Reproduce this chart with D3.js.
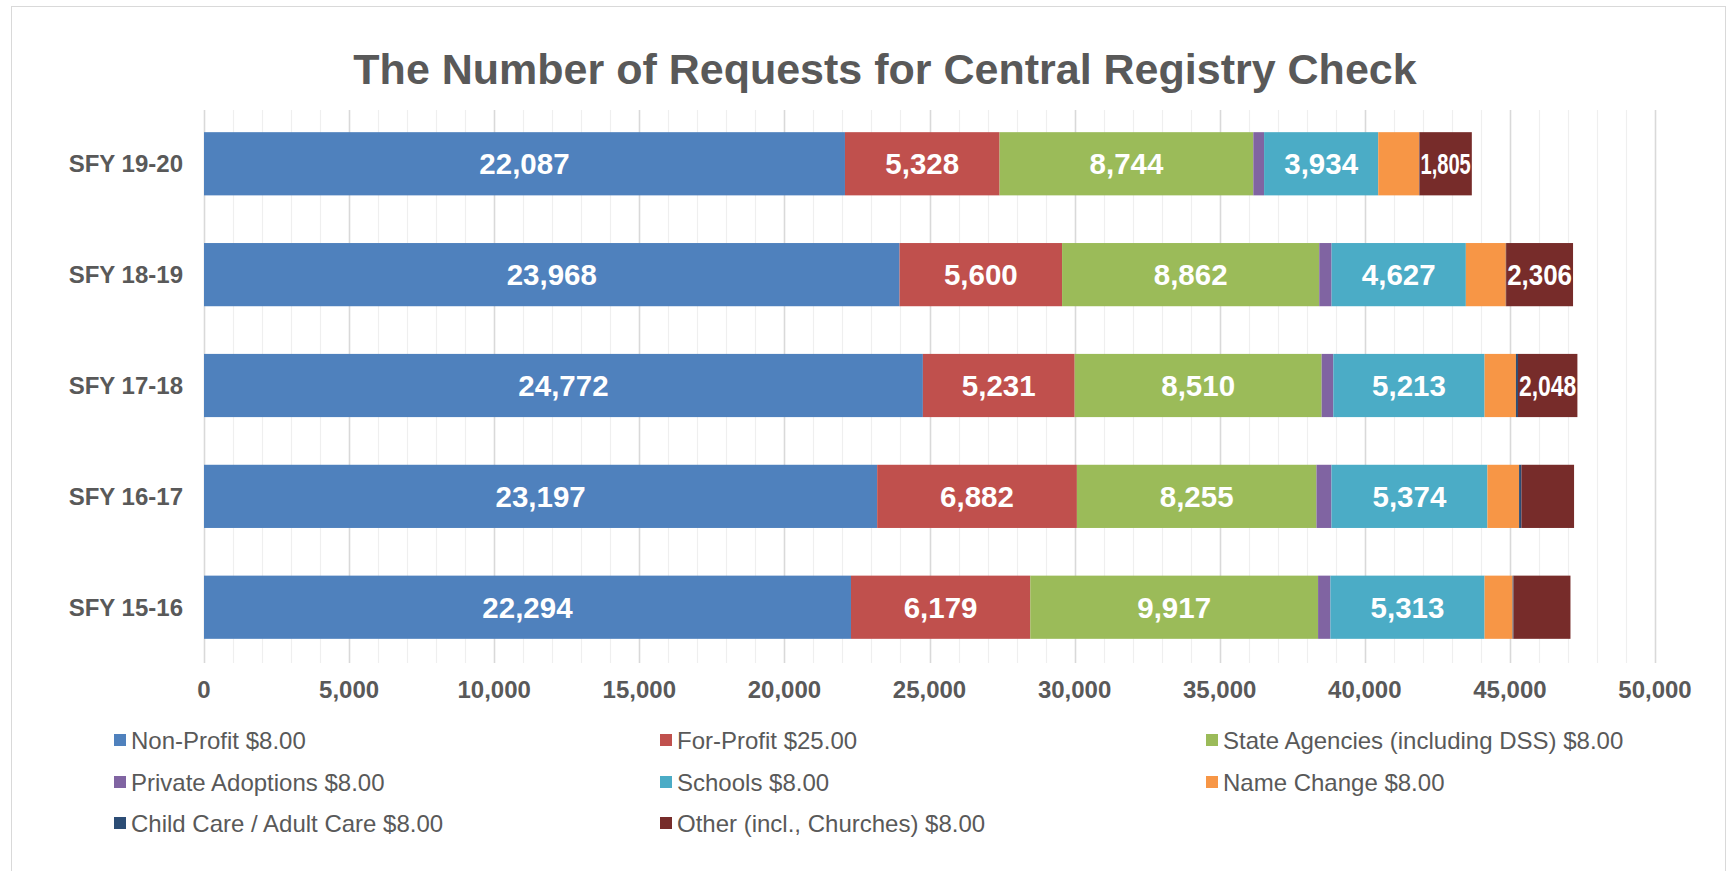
<!DOCTYPE html>
<html>
<head>
<meta charset="utf-8">
<script src="https://cdn.jsdelivr.net/npm/d3@7"></script>
<style>
  html, body { margin: 0; padding: 0; background: #fff; }
  text { font-family: "Liberation Sans", Arial, sans-serif; }
</style>
</head>
<body>
<div id="chart"></div>
<script>
const WIDTH = 1736, HEIGHT = 871;

const years = ["SFY 19-20", "SFY 18-19", "SFY 17-18", "SFY 16-17", "SFY 15-16"];
const seriesNames = [
  "Non-Profit $8.00", "For-Profit $25.00", "State Agencies (including DSS) $8.00",
  "Private Adoptions $8.00", "Schools $8.00", "Name Change $8.00",
  "Child Care / Adult Care $8.00", "Other (incl., Churches) $8.00"
];
const colors = ["#4F81BD", "#C0504D", "#9BBB59", "#8064A2", "#4BACC6", "#F79646", "#2C4D75", "#772C2A"];

const nonProfit = [22087, 23968, 24772, 23197, 22294];
const forProfit = [5328, 5600, 5231, 6882, 6179];
const stateAgencies = [8744, 8862, 8510, 8255, 9917];
const privateAdoptions = [370, 425, 402, 517, 425];
const schools = [3934, 4627, 5213, 5374, 5313];
const nameChange = [1410, 1378, 1080, 1091, 965];
const childCare = [10, 10, 70, 80, 30];
const other = [1805, 2306, 2048, 1815, 1964];

// which segments carry a data label (per series, per year)
const labelShown = [
  [1, 1, 1, 1, 1], [1, 1, 1, 1, 1], [1, 1, 1, 1, 1], [0, 0, 0, 0, 0],
  [1, 1, 1, 1, 1], [0, 0, 0, 0, 0], [0, 0, 0, 0, 0], [1, 1, 1, 0, 0]
];
const xTicks = [0, 5000, 10000, 15000, 20000, 25000, 30000, 35000, 40000, 45000, 50000];
const xMinorTicks = d3.range(0, 50001, 1000);

const allSeries = [nonProfit, forProfit, stateAgencies, privateAdoptions, schools, nameChange, childCare, other];
const rows = years.map((y, i) => {
  const r = {year: y};
  seriesNames.forEach((s, j) => r[s] = allSeries[j][i]);
  return r;
});

const M = {top: 110, left: 204, right: 81, bottom: 210};
const plotW = WIDTH - M.left - M.right;
const plotH = HEIGHT - M.top - M.bottom;

const svg = d3.select("#chart").append("svg")
  .attr("width", WIDTH).attr("height", HEIGHT);

svg.append("rect")
  .attr("x", 11.5).attr("y", 6.5).attr("width", 1714).attr("height", 880)
  .attr("fill", "#fff").attr("stroke", "#d9d9d9").attr("stroke-width", 1);

svg.append("text")
  .attr("x", 885).attr("y", 84)
  .attr("text-anchor", "middle")
  .attr("fill", "#595959")
  .attr("font-size", 43).attr("font-weight", "bold")
  .text("The Number of Requests for Central Registry Check");

const g = svg.append("g").attr("transform", `translate(${M.left},${M.top})`);

const x = d3.scaleLinear().domain([0, 50000]).range([0, plotW]);
const y = d3.scaleBand().domain(years).range([0, plotH]).paddingInner(0.43).paddingOuter(0.2);

// gridlines
g.append("g").selectAll("line").data(xMinorTicks).join("line")
  .attr("x1", d => Math.round(x(d)) + 0.5).attr("x2", d => Math.round(x(d)) + 0.5)
  .attr("y1", 0).attr("y2", plotH + 2)
  .attr("stroke", d => d % 5000 === 0 ? "#d9d9d9" : "#efefef")
  .attr("stroke-width", d => d % 5000 === 0 ? 1.6 : 1.2);

const stack = d3.stack().keys(seriesNames);
const stacked = stack(rows);

const layers = g.selectAll("g.layer").data(stacked).join("g")
  .attr("class", "layer")
  .attr("fill", (d, i) => colors[i]);

layers.selectAll("rect").data(d => d).join("rect")
  .attr("x", d => x(d[0]))
  .attr("y", d => y(d.data.year))
  .attr("width", d => x(d[1]) - x(d[0]))
  .attr("height", y.bandwidth());

// data labels
const fmt = d3.format(",");
stacked.forEach((layer, si) => {
  layer.forEach((d, yi) => {
    if (!labelShown[si][yi]) return;
    const w = x(d[1]) - x(d[0]);
    const t = g.append("text")
      .attr("x", x(d[0]) + w / 2)
      .attr("y", y(d.data.year) + y.bandwidth() / 2)
      .attr("dy", "0.36em")
      .attr("text-anchor", "middle")
      .attr("fill", "#fff")
      .attr("font-size", 29.5).attr("font-weight", "bold")
      .text(fmt(d[1] - d[0]));
    const natural = t.node().getComputedTextLength();
    if (natural > w - 2) {
      t.attr("textLength", w - 2).attr("lengthAdjust", "spacingAndGlyphs");
    }
  });
});

// category axis labels
g.append("g").selectAll("text").data(years).join("text")
  .attr("x", -21)
  .attr("y", d => y(d) + y.bandwidth() / 2)
  .attr("dy", "0.36em")
  .attr("text-anchor", "end")
  .attr("fill", "#595959")
  .attr("font-size", 24).attr("font-weight", "bold")
  .text(d => d);

// value axis labels
g.append("g").selectAll("text").data(xTicks).join("text")
  .attr("x", d => x(d))
  .attr("y", plotH + 28)
  .attr("dy", "0.36em")
  .attr("text-anchor", "middle")
  .attr("fill", "#595959")
  .attr("font-size", 24).attr("font-weight", "bold")
  .text(d => fmt(d));

// legend: three columns
const legendCols = [114, 660, 1206];
const legendRows = [740, 782, 823];
const legend = svg.append("g").selectAll("g").data(seriesNames).join("g")
  .attr("transform", (d, i) => `translate(${legendCols[i % 3]},${legendRows[Math.floor(i / 3)]})`);
legend.append("rect")
  .attr("x", 0).attr("y", -6).attr("width", 12).attr("height", 12)
  .attr("fill", (d, i) => colors[i]);
legend.append("text")
  .attr("x", 17).attr("y", 0).attr("dy", "0.36em")
  .attr("fill", "#595959")
  .attr("font-size", 24)
  .text(d => d);
</script>
</body>
</html>
